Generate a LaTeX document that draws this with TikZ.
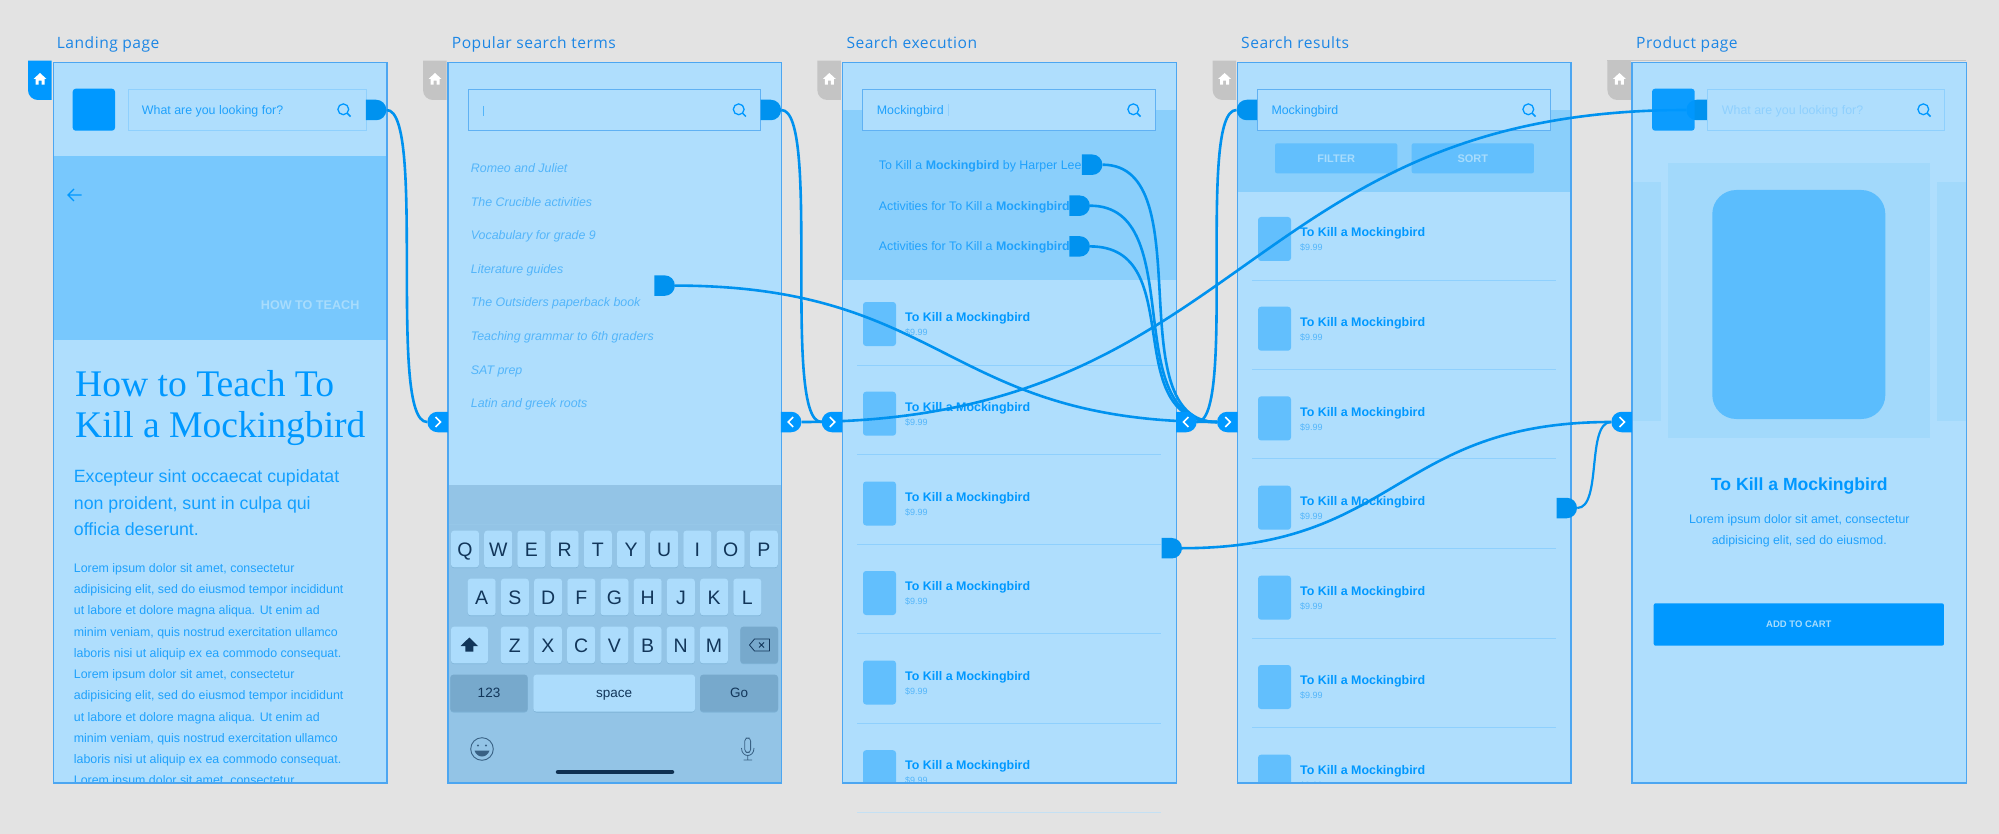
\documentclass[tikz,border=0pt]{standalone}
\usepackage{fontspec}
\usetikzlibrary{shapes.misc}
\setmainfont{Liberation Sans}
\newfontfamily\labelfont[LetterSpace=3.2]{Open Sans}
\newfontfamily\headfont{Liberation Serif}
\newcommand{\pxsize}[1]{\fontsize{#1}{#1}\selectfont}
\pgfdeclarelayer{ports}
\pgfsetlayers{main,ports}

\definecolor{pagebg}{HTML}{E3E3E3}
\definecolor{screenbg}{HTML}{AFDEFD}
\definecolor{screenline}{HTML}{4CA6F1}
\definecolor{heroblue}{HTML}{78C8FD}
\definecolor{bandblue}{HTML}{8ACFFB}
\definecolor{thumbblue}{HTML}{62BFFD}
\definecolor{solidblue}{HTML}{0098FF}
\definecolor{wireblue}{HTML}{0092EF}
\definecolor{softline}{HTML}{8FD0FD}
\definecolor{palelabel}{HTML}{A8DCFC}
\definecolor{bodyblue}{HTML}{1FA1FC}
\definecolor{listblue}{HTML}{53B5FA}
\definecolor{tabgray}{HTML}{C4C4C4}
\definecolor{kbback}{HTML}{93C4E6}
\definecolor{kbdark}{HTML}{77A9CC}
\definecolor{kbkey}{HTML}{ACDCFC}
\definecolor{kbshade}{HTML}{7FB4D8}
\definecolor{kbtext}{HTML}{12365A}
\definecolor{panelblue}{HTML}{A2D9FB}
\definecolor{bookblue}{HTML}{5BBDFD}
\definecolor{labelblue}{HTML}{1C86E5}

\tikzset{
  screen/.style={fill=screenbg, minimum width=333, minimum height=720.2, anchor=north west, inner sep=0},
  searchbox/.style={draw=#1, line width=0.9, fill=screenbg, minimum width=292.4, minimum height=41.5, anchor=north west, inner sep=0},
  searchbox/.default=screenline!80!screenbg,
  linktab/.style={rounded rectangle, rounded rectangle west arc=none, fill=wireblue, minimum width=19, minimum height=20.5, inner sep=0, anchor=west},
  backtab/.style={rounded rectangle, rounded rectangle east arc=none, fill=wireblue, minimum width=19.5, minimum height=20.5, inner sep=0, anchor=east},
  portin/.style={rounded rectangle, rounded rectangle east arc=none, fill=solidblue, minimum width=18.7, minimum height=20.5, inner sep=0, anchor=east,
    path picture={\draw[white, line width=1.6] (path picture bounding box.center) +(-2,-5) -- +(3,0) -- +(-2,5);}},
  portout/.style={rounded rectangle, rounded rectangle west arc=none, fill=solidblue, minimum width=18.7, minimum height=20.5, inner sep=0, anchor=west,
    path picture={\draw[white, line width=1.6] (path picture bounding box.center) +(2,-5) -- +(-3,0) -- +(2,5);}},
  wire/.style={draw=wireblue, line width=2.6},
  txt/.style={anchor=base west, inner sep=0, text=#1},
  txt/.default=bodyblue,
  midtxt/.style={anchor=base, inner sep=0, text=#1},
  label/.style={anchor=base west, inner sep=0, text=labelblue, font=\labelfont\pxsize{15.6}},
  keycap/.style={fill=kbkey, rounded corners=3, minimum width=28, minimum height=36.7, inner sep=0, text=kbtext,
    font=\pxsize{19.5}, text height=14, text depth=0, preaction={fill=kbshade, transform canvas={yshift=-0.8pt}}},
  bigkey/.style={keycap, minimum height=37, font=\pxsize{13.5}, text height=10, text depth=2},
  magnifier/.pic={
    \draw[solidblue, line width=1.3] (0,0) circle[radius=5.4];
    \draw[solidblue, line width=1.5] (3.9,3.9) -- (7.2,7.2);
  },
  hometab/.pic={
    \fill[#1] (23.5,0) -- (0,0) -- (0,29.3) .. controls (0,35) and (4.5,39.3) .. (10,39.3) -- (23.5,39.3) -- cycle;
    \fill[white] (5.5,18.3) -- (12,12.3) -- (18.5,18.3) -- (16.5,18.3) -- (16.5,24) -- (13.5,24) -- (13.5,20)
      -- (10.5,20) -- (10.5,24) -- (7.5,24) -- (7.5,18.3) -- cycle;
  },
  bookrow/.pic={
    \fill[thumbblue, rounded corners=3] (0,0) rectangle (33,44);
    \node[txt=solidblue, font=\bfseries\pxsize{12.45}] (-title) at (42,19.6) {To Kill a Mockingbird};
    \node[txt=listblue, font=\pxsize{9}] (-price) at (42,33.6) {\$9.99};
  }
}

\begin{document}
\begin{tikzpicture}[x=1pt, y=-1pt]
  % Fondo de pagina
  \fill[pagebg] (0,0) rectangle (1999,834);
  \useasboundingbox (0,0) rectangle (1999,834);

  % Titulos y pestanas
  \foreach \name/\x/\txtlabel in {landing/56.7/Landing page, popular/451.7/Popular search terms, exec/846.3/Search execution, results/1241/Search results, product/1636/Product page} {
    \node[label] (\name-label) at (\x,49) {\txtlabel};
  }
  \pic at (28,60.7) {hometab=solidblue};
  \foreach \x in {423,817.3,1212.6,1607.4} {
    \pic at (\x,60.7) {hometab=tabgray};
  }
  \draw[tabgray, line width=1] (1607,61) -- (1966,61);

  % Pantallas
  \node[screen] (landing) at (53.5,62.3) {};
  \node[screen] (popular) at (448,62.3) {};
  \node[screen, minimum width=333.7] (exec) at (842.3,62.3) {};
  \node[screen] (results) at (1237.7,62.3) {};
  \node[screen, minimum width=334] (product) at (1632,62.3) {};

  % Landing page
  \begin{scope}
    \clip (landing.north west) rectangle (landing.south east);
    \fill[heroblue] (53.5,156) rectangle (386.5,340);
    \fill[solidblue, rounded corners=3] (72.7,88.7) rectangle (115,130.7);
    \node[searchbox=softline, minimum width=237.4] (landing-search) at (128.3,89) {};
    \node[txt] (landing-hint) at (141.7,114.2) {\pxsize{12.4}What are you looking for?};
    \pic at (343.3,109.3) {magnifier};
    \draw[solidblue, line width=1.3] (81.5,195) -- (68,195) (74,189) -- (68,195) -- (74,201);
    \node[txt=palelabel, font=\bfseries\pxsize{12.6}] (landing-kicker) at (260.7,309.5) {HOW TO TEACH};
    \node[txt=solidblue, font=\headfont\pxsize{37.6}] (landing-head1) at (75,396) {How to Teach To};
    \node[txt=solidblue, font=\headfont\pxsize{37.6}] (landing-head2) at (75,437) {Kill a Mockingbird};
    \foreach \y/\line [count=\i] in {482/Excepteur sint occaecat cupidatat, 509/{non proident, sunt in culpa qui}, 535.7/officia deserunt.} {
      \node[txt=solidblue!90!screenbg, font=\pxsize{17.75}] (landing-lead\i) at (73.7,\y) {\line};
    }
    \foreach \k in {0,1} {
      \foreach \line [count=\i from 0] in {{Lorem ipsum dolor sit amet, consectetur}, {adipisicing elit, sed do eiusmod tempor incididunt}, {ut labore et dolore magna aliqua. Ut enim ad}, {minim veniam, quis nostrud exercitation ullamco}, {laboris nisi ut aliquip ex ea commodo consequat.}} {
        \pgfmathsetmacro{\ypos}{572.3+21.25*(\i+5*\k)}
        \node[txt, font=\pxsize{12.4}] (landing-body\k-\i) at (73.7,\ypos) {\line};
      }
    }
    \node[txt, font=\pxsize{12.4}] (landing-bodyend) at (73.7,784.8) {Lorem ipsum dolor sit amet, consectetur};
  \end{scope}

  % Popular search terms
  \begin{scope}
    \clip (popular.north west) rectangle (popular.south east);
    \fill[kbback] (448,485) rectangle (781,783);
    \draw[kbback!90!screenbg, line width=0.6] (448,524) -- (781,524);
    \node[searchbox] (popular-search) at (467.7,89) {};
    \draw[listblue, line width=0.7] (483.3,106) -- (483.3,116);
    \pic at (738.7,109.3) {magnifier};
    \foreach \line [count=\i from 0] in {Romeo and Juliet, The Crucible activities, Vocabulary for grade 9, Literature guides, The Outsiders paperback book, Teaching grammar to 6th graders, SAT prep, Latin and greek roots} {
      \pgfmathsetmacro{\ypos}{172.5+33.6*\i}
      \node[txt=listblue, font=\itshape\pxsize{12.4}] (term-\i) at (470.7,\ypos) {\line};
    }
    % Teclado
    \foreach \k [count=\i from 0] in {Q,W,E,R,T,Y,U,I,O,P} {
      \node[keycap] (key-\k) at ({465+33.2*\i},549) {\k};
    }
    \foreach \k [count=\i from 0] in {A,S,D,F,G,H,J,K,L} {
      \node[keycap] (key-\k) at ({481.7+33.2*\i},597) {\k};
    }
    \foreach \k [count=\i from 0] in {Z,X,C,V,B,N,M} {
      \node[keycap] (key-\k) at ({514.7+33.2*\i},645) {\k};
    }
    \node[keycap, minimum width=37] (key-shift) at (469.5,645) {};
    \fill[kbtext] (469.3,637.5) -- (478,646) -- (473.3,646) -- (473.3,651.5) -- (465.3,651.5) -- (465.3,646) -- (460.6,646) -- cycle;
    \node[keycap, fill=kbdark, minimum width=37.7] (key-back) at (759.2,645) {};
    \draw[kbtext, line width=0.8, line join=round] (749.5,645) -- (754.5,639) -- (769.5,639) -- (769.5,651) -- (754.5,651) -- cycle;
    \draw[kbtext, line width=0.8] (759,642.5) -- (764,647.5) (764,642.5) -- (759,647.5);
    \node[bigkey, fill=kbdark, minimum width=77.4] (key-num) at (489,693.2) {123};
    \node[bigkey, minimum width=161.7] (key-space) at (614.2,693.2) {space};
    \node[bigkey, fill=kbdark, minimum width=78] (key-go) at (739,693.2) {Go};
    % Iconos del teclado
    \draw[kbtext!70!kbback, line width=0.9] (482,749) circle[radius=11.3];
    \fill[kbtext!70!kbback] (478,745.5) circle[radius=1.2] (486,745.5) circle[radius=1.2];
    \fill[kbtext!70!kbback] (474.5,750.5) .. controls (477,758.5) and (487,758.5) .. (489.5,750.5) -- cycle;
    \draw[kbtext!70!kbback, line width=0.8, rounded corners=3] (744.8,738) rectangle (750.6,752.5);
    \draw[kbtext!70!kbback, line width=0.8] (741.5,748) .. controls (741.5,758) and (754,758) .. (754,748) (747.7,755.5) -- (747.7,760) (743.5,760) -- (752,760);
    \draw[kbtext!90!black, line width=4.5, line cap=round] (558,772) -- (672,772);
  \end{scope}

  % Search execution
  \begin{scope}
    \clip (exec.north west) rectangle (exec.south east);
    \fill[bandblue] (842.3,110) rectangle (1176,280);
    \node[searchbox] (exec-search) at (862.3,89) {};
    \node[txt, font=\pxsize{12.4}] (exec-query) at (876.7,114.2) {Mockingbird};
    \draw[softline, line width=0.7] (948.3,104) -- (948.3,116);
    \pic at (1133.3,109.3) {magnifier};
    \node[txt, font=\pxsize{12.4}] (hint-a) at (878.7,169.4) {To Kill a \textbf{Mockingbird} by Harper Lee};
    \node[txt, font=\pxsize{12.4}] (hint-b) at (878.7,210.4) {Activities for To Kill a \textbf{Mockingbird}};
    \node[txt, font=\pxsize{12.4}] (hint-c) at (878.7,251) {Activities for To Kill a \textbf{Mockingbird}};
    \foreach \y [count=\i] in {302,391.7,481.5,571,660.5,750.2} {
      \pic (execrow\i) at (863,\y) {bookrow};
    }
    \foreach \y in {365,454,544,633.3,723.3} {
      \draw[softline, line width=0.9] (857,\y) -- (1161.3,\y);
    }
  \end{scope}
  \draw[screenbg!60!pagebg, line width=0.9] (857,812.3) -- (1161.3,812.3);

  % Search results
  \begin{scope}
    \clip (results.north west) rectangle (results.south east);
    \fill[bandblue] (1237.7,110) rectangle (1571,191.7);
    \node[searchbox] (results-search) at (1257.3,89) {};
    \node[txt, font=\pxsize{12.4}] (results-query) at (1271.3,114.2) {Mockingbird};
    \pic at (1528.3,109.3) {magnifier};
    \node[fill=thumbblue, rounded corners=2, minimum width=122.3, minimum height=30, inner sep=0, text=palelabel, font=\bfseries\pxsize{11}] (filter-btn) at (1336.2,158.3) {FILTER};
    \node[fill=thumbblue, rounded corners=2, minimum width=122.3, minimum height=30, inner sep=0, text=palelabel, font=\bfseries\pxsize{11}] (sort-btn) at (1472.8,158.3) {SORT};
    \foreach \y [count=\i] in {217,306.7,396.4,485.7,575.7,665,754.7} {
      \pic (resultrow\i) at (1258,\y) {bookrow};
    }
    \foreach \y in {280,369.3,458.3,548.3,638,727.7} {
      \draw[softline, line width=0.9] (1252,\y) -- (1556,\y);
    }
  \end{scope}

  % Product page
  \begin{scope}
    \clip (product.north west) rectangle (product.south east);
    \fill[panelblue] (1632,181.7) rectangle (1661,420.7);
    \fill[panelblue] (1936.7,181.7) rectangle (1966,420.7);
    \fill[panelblue] (1668.3,163.3) rectangle (1930,438.3);
    \fill[bookblue, rounded corners=24] (1712.3,190) rectangle (1885.3,419);
    \node[searchbox=softline, minimum width=237.4] (product-search) at (1707,89) {};
    \node[txt=softline, font=\pxsize{12.4}] (product-hint) at (1721.7,114.2) {What are you looking for?};
    \pic at (1923.3,109.3) {magnifier};
    \node[midtxt=solidblue, font=\bfseries\pxsize{17.6}] (product-name) at (1799.3,490.5) {To Kill a Mockingbird};
    \node[midtxt=bodyblue, font=\pxsize{12.4}] (product-text1) at (1799.3,523.5) {Lorem ipsum dolor sit amet, consectetur};
    \node[midtxt=bodyblue, font=\pxsize{12.4}] (product-text2) at (1799.3,544.8) {adipisicing elit, sed do eiusmod.};
    \node[fill=solidblue, rounded corners=2, minimum width=290.3, minimum height=42.4, inner sep=0, text=palelabel, font=\bfseries\pxsize{9.5}] (cart-btn) at (1798.8,624.5) {ADD TO CART};
  \end{scope}

  % Bordes de las pantallas
  \foreach \name in {landing,popular,exec,results,product} {
    \draw[screenline, line width=1.3] (\name.north west) rectangle (\name.south east);
  }

  % Pestanas de enlace
  \node[linktab] (landing-link) at (365.7,110) {};
  \node[linktab] (popular-link) at (760.4,110) {};
  \node[linktab] (term-link) at (654.2,285.6) {};
  \node[linktab] (hint-a-link) at (1081.7,164.7) {};
  \node[linktab] (hint-b-link) at (1069.2,205.7) {};
  \node[linktab] (hint-c-link) at (1069.2,246.4) {};
  \node[linktab] (row-link) at (1161.3,548.2) {};
  \node[linktab] (result-link) at (1556.3,508) {};
  \node[backtab] (results-link) at (1257.3,110) {};
  \node[backtab] (product-link) at (1707,110) {};

  % Puertos (capa superior, tapan los conectores)
  \begin{pgfonlayer}{ports}
    \node[portin] (popular-in) at (448,422) {};
    \node[portin] (exec-in) at (842.3,422) {};
    \node[portin] (results-in) at (1237.7,422) {};
    \node[portin] (product-in) at (1632,422) {};
    \node[portout] (popular-out) at (780.7,422) {};
    \node[portout] (exec-out) at (1176,422) {};
    % Logo de producto encima del conector
    \fill[solidblue, rounded corners=3, opacity=0.93] (1652,88.7) rectangle (1694.7,130.7);
  \end{pgfonlayer}

  % Conectores
  \draw[wire] (landing-link.east) .. controls +(40,0) and +(-40,0) .. (popular-in.west);
  \draw[wire] (popular-link.east) .. controls +(40,0) and +(-40,0) .. (exec-in.west);
  \draw[wire] (term-link.east) .. controls +(272,0) and +(-272,0) .. (results-in.west);
  \draw[wire] (hint-a-link.east) .. controls +(100,0) and +(-100,0) .. (results-in.west);
  \draw[wire] (hint-b-link.east) .. controls +(100,0) and +(-100,0) .. (results-in.west);
  \draw[wire] (hint-c-link.east) .. controls +(100,0) and +(-100,0) .. (results-in.west);
  \draw[wire] (results-link.west) .. controls +(-40,0) and +(40,0) .. (exec-out.east);
  \draw[wire] (product-link.west) .. controls +(-444,0) and +(444,0) .. (popular-out.east);
  \draw[wire] (row-link.east) .. controls +(216,0) and +(-216,0) .. (product-in.west);
  \draw[wire, line width=2.2] (result-link.east) .. controls +(25,0) and +(-25,0) .. (product-in.west);
\end{tikzpicture}
\end{document}
